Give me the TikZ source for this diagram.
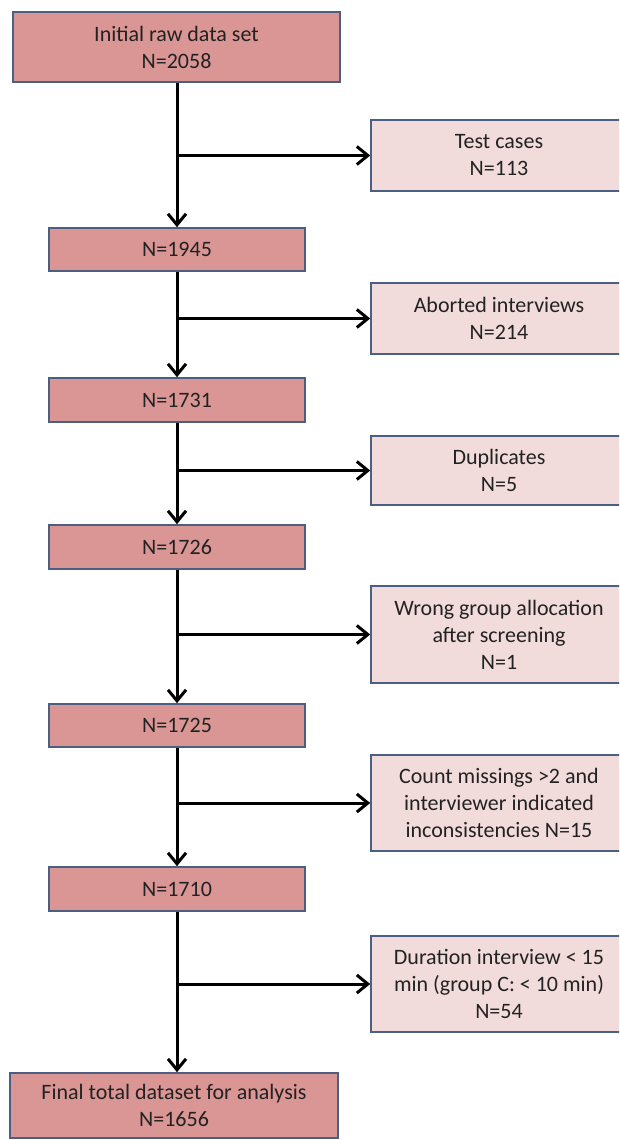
\documentclass[tikz,border=0pt]{standalone}
\usepackage{fontspec}
\setmainfont{Carlito}
\usetikzlibrary{arrows.meta}
\definecolor{mainfill}{HTML}{D99694}
\definecolor{sidefill}{HTML}{F2DCDB}
\definecolor{edgeblue}{HTML}{4A5F82}
\definecolor{inktext}{HTML}{222222}
\tikzset{
  every node/.style={font=\fontsize{22}{27}\selectfont, text=inktext, align=center, inner sep=0pt},
  stagebox/.style={rectangle, draw=edgeblue, line width=1.6pt, fill=mainfill},
  dropbox/.style={rectangle, draw=edgeblue, line width=1.6pt, fill=sidefill, minimum width=256pt},
  flow/.style={draw=black, line width=3pt, -{Straight Barb[length=11pt,width=18pt]}},
}
\begin{document}
\begin{tikzpicture}[x=1pt, y=-1pt]
\useasboundingbox (0,0) rectangle (619,1140);
\clip (0,0) rectangle (619,1140);
\fill[white] (0,0) rectangle (619,1140);

% main chain of the data set
\node[stagebox, minimum width=327pt, minimum height=70pt] (b1) at (176.5,47) {Initial raw data set\\N=2058};
\node[stagebox, minimum width=256pt, minimum height=43pt] (b2) at (177,249.5) {N=1945};
\node[stagebox, minimum width=256pt, minimum height=44pt] (b3) at (177,400) {N=1731};
\node[stagebox, minimum width=256pt, minimum height=44pt] (b4) at (177,547) {N=1726};
\node[stagebox, minimum width=256pt, minimum height=43pt] (b5) at (177,725.5) {N=1725};
\node[stagebox, minimum width=256pt, minimum height=44pt] (b6) at (177,889) {N=1710};
\node[stagebox, minimum width=328pt, minimum height=65pt] (b7) at (174,1105.5) {Final total dataset for analysis\\N=1656};

% excluded records
\node[dropbox, minimum height=71pt] (d1) at (499,155.5) {Test cases\\N=113};
\node[dropbox, minimum height=71pt] (d2) at (499,318.5) {Aborted interviews\\N=214};
\node[dropbox, minimum height=69pt] (d3) at (499,470.5) {Duplicates\\N=5};
\node[dropbox, minimum height=97pt] (d4) at (499,634.5) {Wrong group allocation\\after screening\\N=1};
\node[dropbox, minimum height=96pt] (d5) at (499,803) {Count missings >2 and\\interviewer indicated\\inconsistencies N=15};
\node[dropbox, minimum height=96pt] (d6) at (499,984) {Duration interview < 15\\min (group C: < 10 min)\\N=54};

% branch points on the main line
\coordinate (j1) at (177,155.5);
\coordinate (j2) at (177,318.5);
\coordinate (j3) at (177,470.5);
\coordinate (j4) at (177,634.5);
\coordinate (j5) at (177,803);
\coordinate (j6) at (177,984);

% vertical flow
\draw[flow] (b2.north |- b1.south) -- (b2.north);
\draw[flow] (b2.south) -- (b3.north);
\draw[flow] (b3.south) -- (b4.north);
\draw[flow] (b4.south) -- (b5.north);
\draw[flow] (b5.south) -- (b6.north);
\draw[flow] (b6.south) -- (b6.south |- b7.north);

% exclusions
\draw[flow] (j1) -- (d1.west);
\draw[flow] (j2) -- (d2.west);
\draw[flow] (j3) -- (d3.west);
\draw[flow] (j4) -- (d4.west);
\draw[flow] (j5) -- (d5.west);
\draw[flow] (j6) -- (d6.west);
\end{tikzpicture}
\end{document}
